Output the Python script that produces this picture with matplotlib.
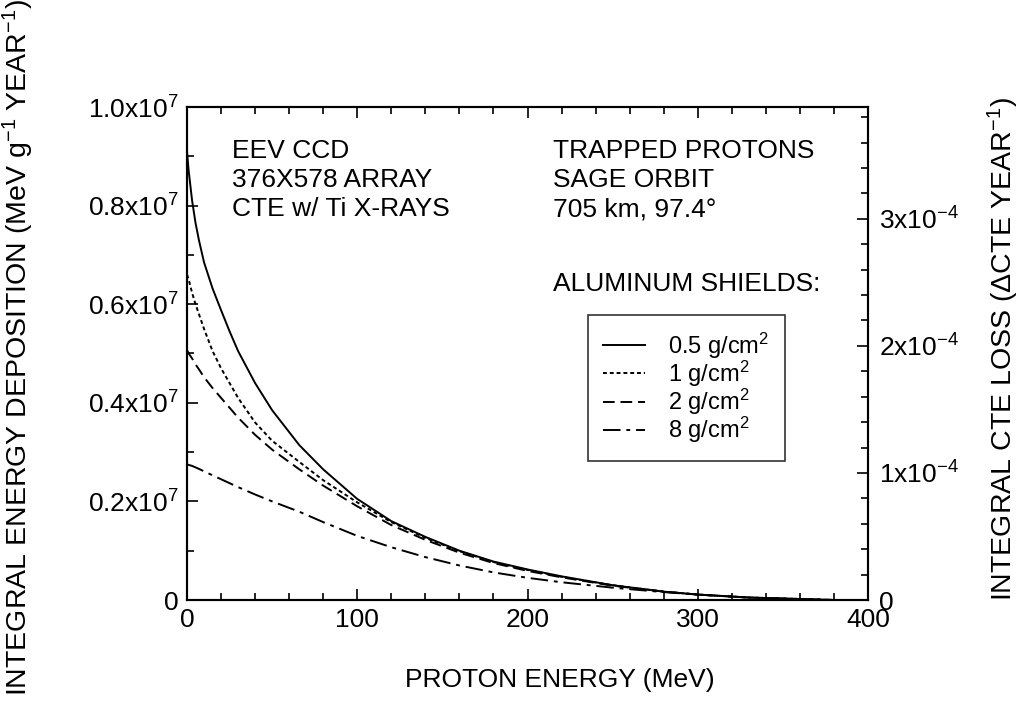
import numpy as np
import matplotlib
matplotlib.use("Agg")
from matplotlib import pyplot as plt
from matplotlib.ticker import MultipleLocator, FixedLocator, FixedFormatter

plt.rcParams['font.family'] = ['Liberation Sans', 'DejaVu Sans']
plt.rcParams['mathtext.fontset'] = 'custom'
plt.rcParams['mathtext.rm'] = 'Liberation Sans'
plt.rcParams['mathtext.it'] = 'Liberation Sans'
plt.rcParams['mathtext.default'] = 'regular'

# 质子能量 (MeV)
energy = [0, 1, 3, 5, 7, 10, 15, 20, 25, 30, 40, 50, 66, 80, 100, 120, 140, 160,
          180, 200, 220, 250, 280, 300, 330, 360, 380]
# 各铝屏蔽厚度下的积分能量沉积 (x1e7 MeV/g/yr)
shield_05 = [0.91, 0.87, 0.81, 0.765, 0.73, 0.685, 0.632, 0.588, 0.545, 0.505, 0.44, 0.385,
             0.314, 0.265, 0.205, 0.16, 0.128, 0.10, 0.078, 0.062, 0.048, 0.030,
             0.017, 0.011, 0.005, 0.002, 0.0]
shield_1 = [0.66, 0.65, 0.623, 0.60, 0.58, 0.55, 0.505, 0.47, 0.44, 0.41, 0.36, 0.323,
            0.28, 0.243, 0.198, 0.158, 0.126, 0.099, 0.077, 0.061, 0.047, 0.030,
            0.017, 0.011, 0.005, 0.002, 0.0]
shield_2 = [0.507, 0.50, 0.49, 0.478, 0.468, 0.452, 0.43, 0.41, 0.39, 0.37, 0.335, 0.305,
            0.265, 0.232, 0.19, 0.152, 0.122, 0.096, 0.075, 0.059, 0.046, 0.029,
            0.017, 0.011, 0.005, 0.002, 0.0]
shield_8 = [0.275, 0.274, 0.272, 0.269, 0.266, 0.261, 0.253, 0.245, 0.237, 0.229, 0.214,
            0.20, 0.179, 0.158, 0.13, 0.107, 0.087, 0.07, 0.056, 0.045, 0.036, 0.025,
            0.016, 0.011, 0.005, 0.002, 0.0]
labels = ['0.5 g/cm$^2$', '1 g/cm$^2$', '2 g/cm$^2$', '8 g/cm$^2$']
styles = ['-', (0, (2, 1.5)), (0, (6, 3)), (0, (9, 3, 2, 3))]

left_ticks = [0, 0.2, 0.4, 0.6, 0.8, 1.0]
left_ticklabels = ['0', '0.2x10$^7$', '0.4x10$^7$', '0.6x10$^7$', '0.8x10$^7$', '1.0x10$^7$']
right_ticks = [0, 1e-4, 2e-4, 3e-4]
right_ticklabels = ['0', '1x10$^{-4}$', '2x10$^{-4}$', '3x10$^{-4}$']

fs = 19
fig = plt.figure(figsize=(10.23, 7.21), dpi=100)
ax = fig.add_axes([187/1023, 1-600/721, 681/1023, 493/721])

for ys, ls, lab in zip([shield_05, shield_1, shield_2, shield_8], styles, labels):
    ax.plot(energy, ys, color='black', lw=1.4, linestyle=ls, label=lab)

ax.set_xlim(0, 400)
ax.set_ylim(0, 1.0)
ax.xaxis.set_major_locator(MultipleLocator(100))
ax.xaxis.set_minor_locator(MultipleLocator(20))
ax.yaxis.set_major_locator(FixedLocator(left_ticks))
ax.yaxis.set_major_formatter(FixedFormatter(left_ticklabels))
ax.yaxis.set_minor_locator(MultipleLocator(0.1))
ax.tick_params(which='both', direction='in', top=True, right=False, labelsize=fs, width=1.2)
ax.tick_params(which='major', length=8, pad=6)
ax.tick_params(which='minor', length=5)
for s in ax.spines.values():
    s.set_linewidth(1.5)

# 右轴: CTE 损失
ax2 = ax.twinx()
ax2.set_ylim(0, 3.88e-4)
ax2.yaxis.set_major_locator(FixedLocator(right_ticks))
ax2.yaxis.set_major_formatter(FixedFormatter(right_ticklabels))
ax2.yaxis.set_minor_locator(MultipleLocator(0.2e-4))
ax2.tick_params(which='both', direction='in', labelsize=fs, width=1.2)
ax2.tick_params(which='major', length=8, pad=8)
ax2.tick_params(which='minor', length=5)
for s in ax2.spines.values():
    s.set_linewidth(1.5)

fig.text(405/1023, 1-680/721, 'PROTON ENERGY (MeV)', fontsize=fs, ha='left', va='center')
fig.text(18/1023, 1-347/721, 'INTEGRAL ENERGY DEPOSITION (MeV g$^{-1}$ YEAR$^{-1}$)',
         fontsize=20.5, rotation=90, ha='center', va='center')
fig.text(1003/1023, 1-349/721, 'INTEGRAL CTE LOSS (\u0394CTE YEAR$^{-1}$)',
         fontsize=20.5, rotation=90, ha='center', va='center')

ax.text(0.066, 0.935, 'EEV CCD\n376X578 ARRAY\nCTE w/ Ti X-RAYS', transform=ax.transAxes,
        fontsize=fs, va='top', ha='left', linespacing=1.27)
ax.text(0.537, 0.935, 'TRAPPED PROTONS\nSAGE ORBIT\n705 km, 97.4\u00b0', transform=ax.transAxes,
        fontsize=fs, va='top', ha='left', linespacing=1.27)
ax.text(0.537, 0.665, 'ALUMINUM SHIELDS:', transform=ax.transAxes,
        fontsize=fs, va='top', ha='left')

leg = ax.legend(loc='upper left', bbox_to_anchor=((588-187)/681, 1-(315-107)/493),
                fontsize=17, frameon=True, fancybox=False, edgecolor='black',
                handlelength=1.75, labelspacing=-0.08, handletextpad=1.0, borderpad=0.65,
                borderaxespad=0)
leg.get_frame().set_linewidth(1.2)

fig.savefig('out.png', dpi=100)
